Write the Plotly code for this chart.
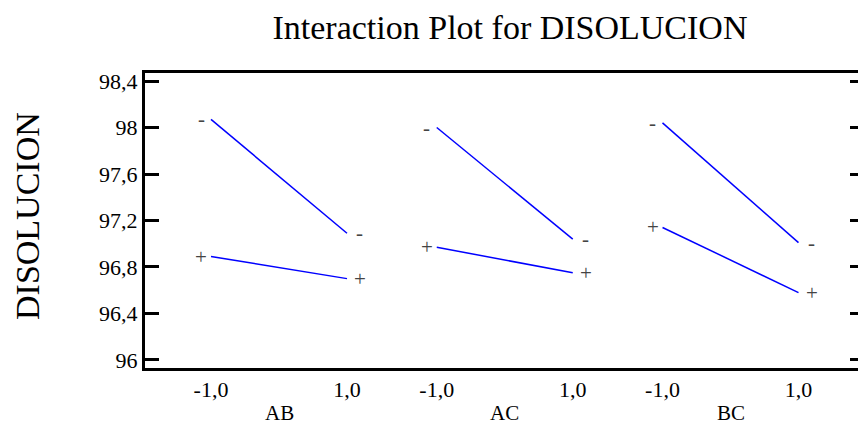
import plotly.graph_objects as go

# ---- data ----
levels = [-1.0, 1.0]
level_labels = ["-1,0", "1,0"]
interactions = ["AB", "AC", "BC"]
ab_minus = [98.07, 97.09]
ab_plus = [96.89, 96.70]
ac_minus = [98.00, 97.04]
ac_plus = [96.97, 96.75]
bc_minus = [98.04, 97.01]
bc_plus = [97.14, 96.58]
y_ticks = [96.0, 96.4, 96.8, 97.2, 97.6, 98.0, 98.4]
y_tick_labels = ["96", "96,4", "96,8", "97,2", "97,6", "98", "98,4"]

series = {"AB": (ab_minus, ab_plus), "AC": (ac_minus, ac_plus), "BC": (bc_minus, bc_plus)}

FONT = "Liberation Serif"
PANEL_GAP = 3.32  # horizontal offset between panels in axis units

fig = go.Figure()
annotations = []
tickvals, ticktext = [], []
for i, name in enumerate(interactions):
    off = i * PANEL_GAP
    xs = [lv + off for lv in levels]
    tickvals += xs
    ticktext += level_labels
    for vals, sym in zip(series[name], ["-", "+"]):
        fig.add_trace(go.Scatter(x=xs, y=vals, mode="lines",
                                 line=dict(color="#0000ff", width=1.5),
                                 showlegend=False, hoverinfo="skip"))
        annotations.append(dict(x=xs[0], y=vals[0], text=sym, showarrow=False,
                                xanchor="center", yanchor="middle", xshift=-10,
                                font=dict(family=FONT, size=21, color="#444444")))
        annotations.append(dict(x=xs[1], y=vals[1], text=sym, showarrow=False,
                                xanchor="center", yanchor="middle", xshift=13,
                                font=dict(family=FONT, size=21, color="#444444")))
    annotations.append(dict(x=off, y=0, xref="x", yref="paper", text=name,
                            showarrow=False, xanchor="center", yanchor="middle",
                            yshift=-45, font=dict(family=FONT, size=21, color="#000")))

# invisible trace for right-side tick axis
fig.add_trace(go.Scatter(x=[0], y=[97], yaxis="y2", mode="markers",
                         marker=dict(opacity=0), showlegend=False, hoverinfo="skip"))

annotations.append(dict(x=(27 - 145) / 713, y=(368 - 216) / 295, xref="paper", yref="paper",
                        text="DISOLUCION", textangle=-90, showarrow=False,
                        xanchor="center", yanchor="middle",
                        font=dict(family=FONT, size=34, color="#000")))

yrange = [95.931, 98.469]
fig.update_layout(
    width=858, height=425,
    margin=dict(l=145, r=0, t=73, b=57),
    paper_bgcolor="white", plot_bgcolor="white",
    font=dict(family=FONT),
    title=dict(text="Interaction Plot for DISOLUCION", x=510 / 858, xanchor="center",
               xref="container", y=1 - 27 / 425, yanchor="middle", yref="container",
               font=dict(family=FONT, size=34, color="#000")),
    xaxis=dict(range=[-1.9706, 8.515], tickvals=tickvals, ticktext=ticktext,
               showgrid=False, zeroline=False, showline=True, linecolor="#000",
               linewidth=3, mirror=True, ticks="",
               tickfont=dict(family=FONT, size=22, color="#000")),
    yaxis=dict(range=yrange, tickvals=y_ticks, ticktext=y_tick_labels,
               showgrid=False, zeroline=False, showline=True, linecolor="#000",
               linewidth=3, ticks="inside", ticklen=14, tickwidth=3, tickcolor="#000",
               tickfont=dict(family=FONT, size=22, color="#000")),
    yaxis2=dict(range=yrange, overlaying="y", side="right", tickvals=y_ticks,
                showticklabels=False, showgrid=False, zeroline=False, showline=False,
                ticks="inside", ticklen=8, tickwidth=3, tickcolor="#000"),
    annotations=annotations,
)

fig.write_html("out.html")
